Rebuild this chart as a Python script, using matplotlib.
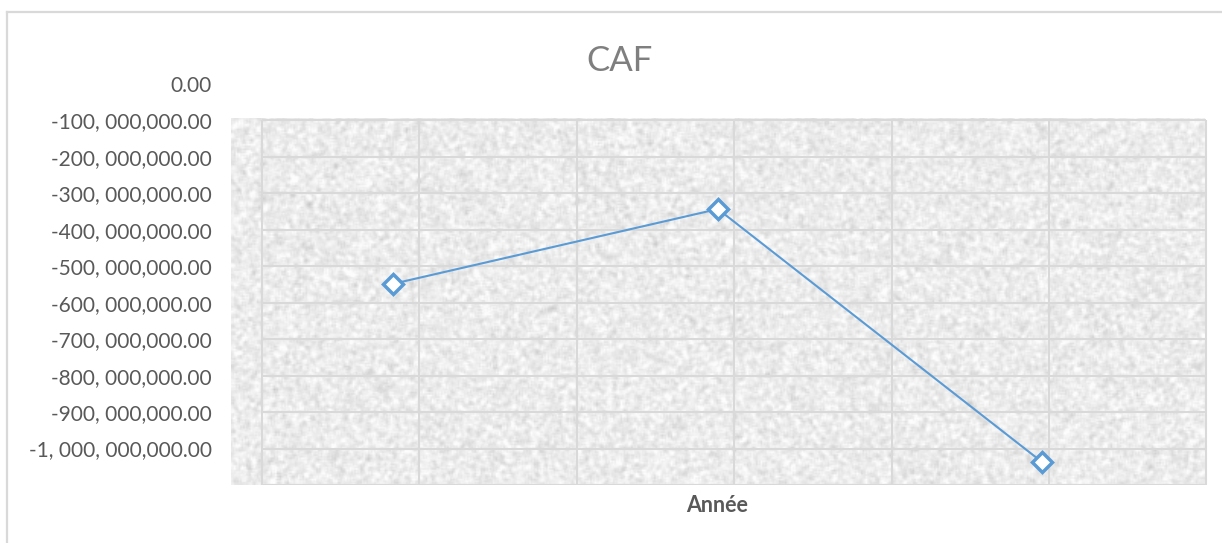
import numpy as np
import matplotlib.pyplot as plt
from matplotlib.lines import Line2D

# CAF par année (valeurs en unités monétaires)
caf = [-548e6, -343e6, -1038e6]
y_ticks = [0, -100e6, -200e6, -300e6, -400e6, -500e6,
           -600e6, -700e6, -800e6, -900e6, -1000e6]
title = "CAF"
x_label = "Année"

plt.rcParams['font.family'] = ['Lato', 'DejaVu Sans']

W, H = 1222, 543
fig = plt.figure(figsize=(W / 100, H / 100), dpi=100)

# cadre du graphique (seuls les bords haut et gauche sont visibles)
fig.add_artist(Line2D([7.5 / W, 7.5 / W], [0, 1 - 11.5 / H], color="#d9d9d9", lw=1.6))
fig.add_artist(Line2D([7.5 / W, 1], [1 - 11.5 / H, 1 - 11.5 / H], color="#d9d9d9", lw=1.6))

ax = fig.add_axes([231 / W, 1 - 485 / H, 977 / W, 401 / H])
ax.set_xlim(-0.5, 2.51)
ax.set_ylim(-1100e6, 0)

# fond texturé de la zone de traçage
rng = np.random.default_rng(7)
noise = rng.normal(size=(240, 640))
k = np.ones(3) / 3
noise = np.apply_along_axis(lambda r: np.convolve(r, k, mode="same"), 1, noise)
noise = np.apply_along_axis(lambda c: np.convolve(c, k, mode="same"), 0, noise)
noise = (noise - noise.mean()) / noise.std()
tex = np.clip(0.925 + 0.03 * noise, 0.76, 0.99)
ax.imshow(tex, cmap="gray", vmin=0, vmax=1, extent=(-0.5, 2.5, -1100e6, -95e6),
          aspect="auto", interpolation="bilinear", zorder=0)

# quadrillage
gx0, gx1 = -0.405, 2.505
for v in np.arange(-100e6, -1101e6, -100e6):
    ax.plot([gx0, gx1], [v, v], color="#d9d9d9", lw=1.5, zorder=1, solid_capstyle="butt")
for gx in np.linspace(gx0, gx1, 7):
    ax.plot([gx, gx], [-100e6, -1100e6], color="#d9d9d9", lw=1.5, zorder=1, solid_capstyle="butt")

x = np.arange(len(caf))
ax.plot(x, caf, color="#5b9bd5", lw=1.5, marker="D", markersize=10,
        markerfacecolor="white", markeredgecolor="#5b9bd5", markeredgewidth=2.5, zorder=3)


def fmt(v):
    parts = f"{v:,.2f}".split(",")
    if len(parts) == 1:
        return parts[0]
    return ", ".join(parts[:-1]) + "," + parts[-1]


ax.set_yticks(y_ticks)
ax.set_yticklabels([fmt(v) for v in y_ticks], fontsize=15, color="#595959")
ax.set_xticks([])
ax.tick_params(axis="y", length=0, pad=14)
for s in ax.spines.values():
    s.set_visible(False)

fig.text(620 / W, 1 - 61 / H, title, ha="center", va="center", fontsize=25, color="#7f7f7f")
fig.text(717.5 / W, 1 - 506 / H, x_label, ha="center", va="center", fontsize=15.5,
         fontweight="bold", color="#595959")

fig.savefig("out.png", dpi=100)
